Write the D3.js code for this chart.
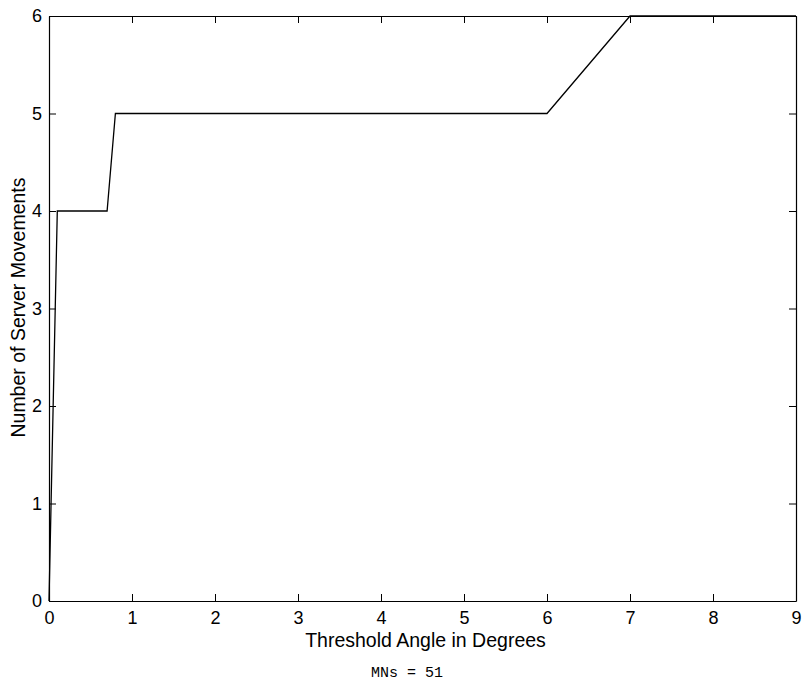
<!DOCTYPE html>
<html>
<head>
<meta charset="utf-8">
<script src="https://cdn.jsdelivr.net/npm/d3@7"></script>
<style>
body { margin: 0; background: #fff; }
svg text { font-family: "Liberation Sans", Arial, sans-serif; fill: #000; }
</style>
</head>
<body>
<div id="chart"></div>
<script>
// values
var angles = [0, 0.1, 0.7, 0.8, 6, 7, 9];
var movements = [0, 4, 4, 5, 5, 6, 6];
var xTicks = [0, 1, 2, 3, 4, 5, 6, 7, 8, 9];
var yTicks = [0, 1, 2, 3, 4, 5, 6];

var margin = {top: 16, right: 8, bottom: 93, left: 49};
var width = 804 - margin.left - margin.right;
var height = 694 - margin.top - margin.bottom;

var svg = d3.select("#chart").append("svg")
    .attr("width", 804)
    .attr("height", 694)
    .append("g")
    .attr("transform", "translate(" + margin.left + "," + margin.top + ")");

var x = d3.scaleLinear().domain([0, 9]).range([0, width]);
var y = d3.scaleLinear().domain([0, 6]).range([height, 0]);

var tickLen = 7;
var fmt = d3.format("d");

// matlab style box, ticks pointing in
svg.append("g")
    .attr("transform", "translate(0," + height + ")")
    .call(d3.axisBottom(x).tickValues(xTicks).tickSizeInner(-tickLen).tickSizeOuter(0).tickPadding(10).tickFormat(fmt));
svg.append("g")
    .call(d3.axisTop(x).tickValues(xTicks).tickSizeInner(-tickLen).tickSizeOuter(0).tickFormat(""));
svg.append("g")
    .call(d3.axisLeft(y).tickValues(yTicks).tickSizeInner(-tickLen).tickSizeOuter(0).tickPadding(7).tickFormat(fmt));
svg.append("g")
    .attr("transform", "translate(" + width + ",0)")
    .call(d3.axisRight(y).tickValues(yTicks).tickSizeInner(-tickLen).tickSizeOuter(0).tickFormat(""));

svg.selectAll(".domain").attr("stroke", "#000").attr("stroke-width", 1.2);
svg.selectAll(".tick line").attr("stroke", "#000");
svg.selectAll(".tick text").style("font-size", "18px");

var line = d3.line()
    .x(function (d, i) { return x(angles[i]); })
    .y(function (d) { return y(d); });

svg.append("path")
    .datum(movements)
    .attr("fill", "none")
    .attr("stroke", "#000")
    .attr("stroke-width", 1.3)
    .attr("d", line);

svg.append("text")
    .attr("x", width / 2 + 3)
    .attr("y", height + 46)
    .attr("text-anchor", "middle")
    .style("font-size", "19.5px")
    .text("Threshold Angle in Degrees");

svg.append("text")
    .attr("transform", "translate(" + (-24) + "," + (height / 2 - 1) + ") rotate(-90)")
    .attr("text-anchor", "middle")
    .style("font-size", "19.5px")
    .text("Number of Server Movements");

svg.append("text")
    .attr("x", 407 - margin.left)
    .attr("y", 677 - margin.top)
    .attr("text-anchor", "middle")
    .style("font-family", "'Liberation Mono', 'DejaVu Sans Mono', monospace")
    .style("font-size", "15px")
    .text("MNs = 51");
</script>
</body>
</html>
